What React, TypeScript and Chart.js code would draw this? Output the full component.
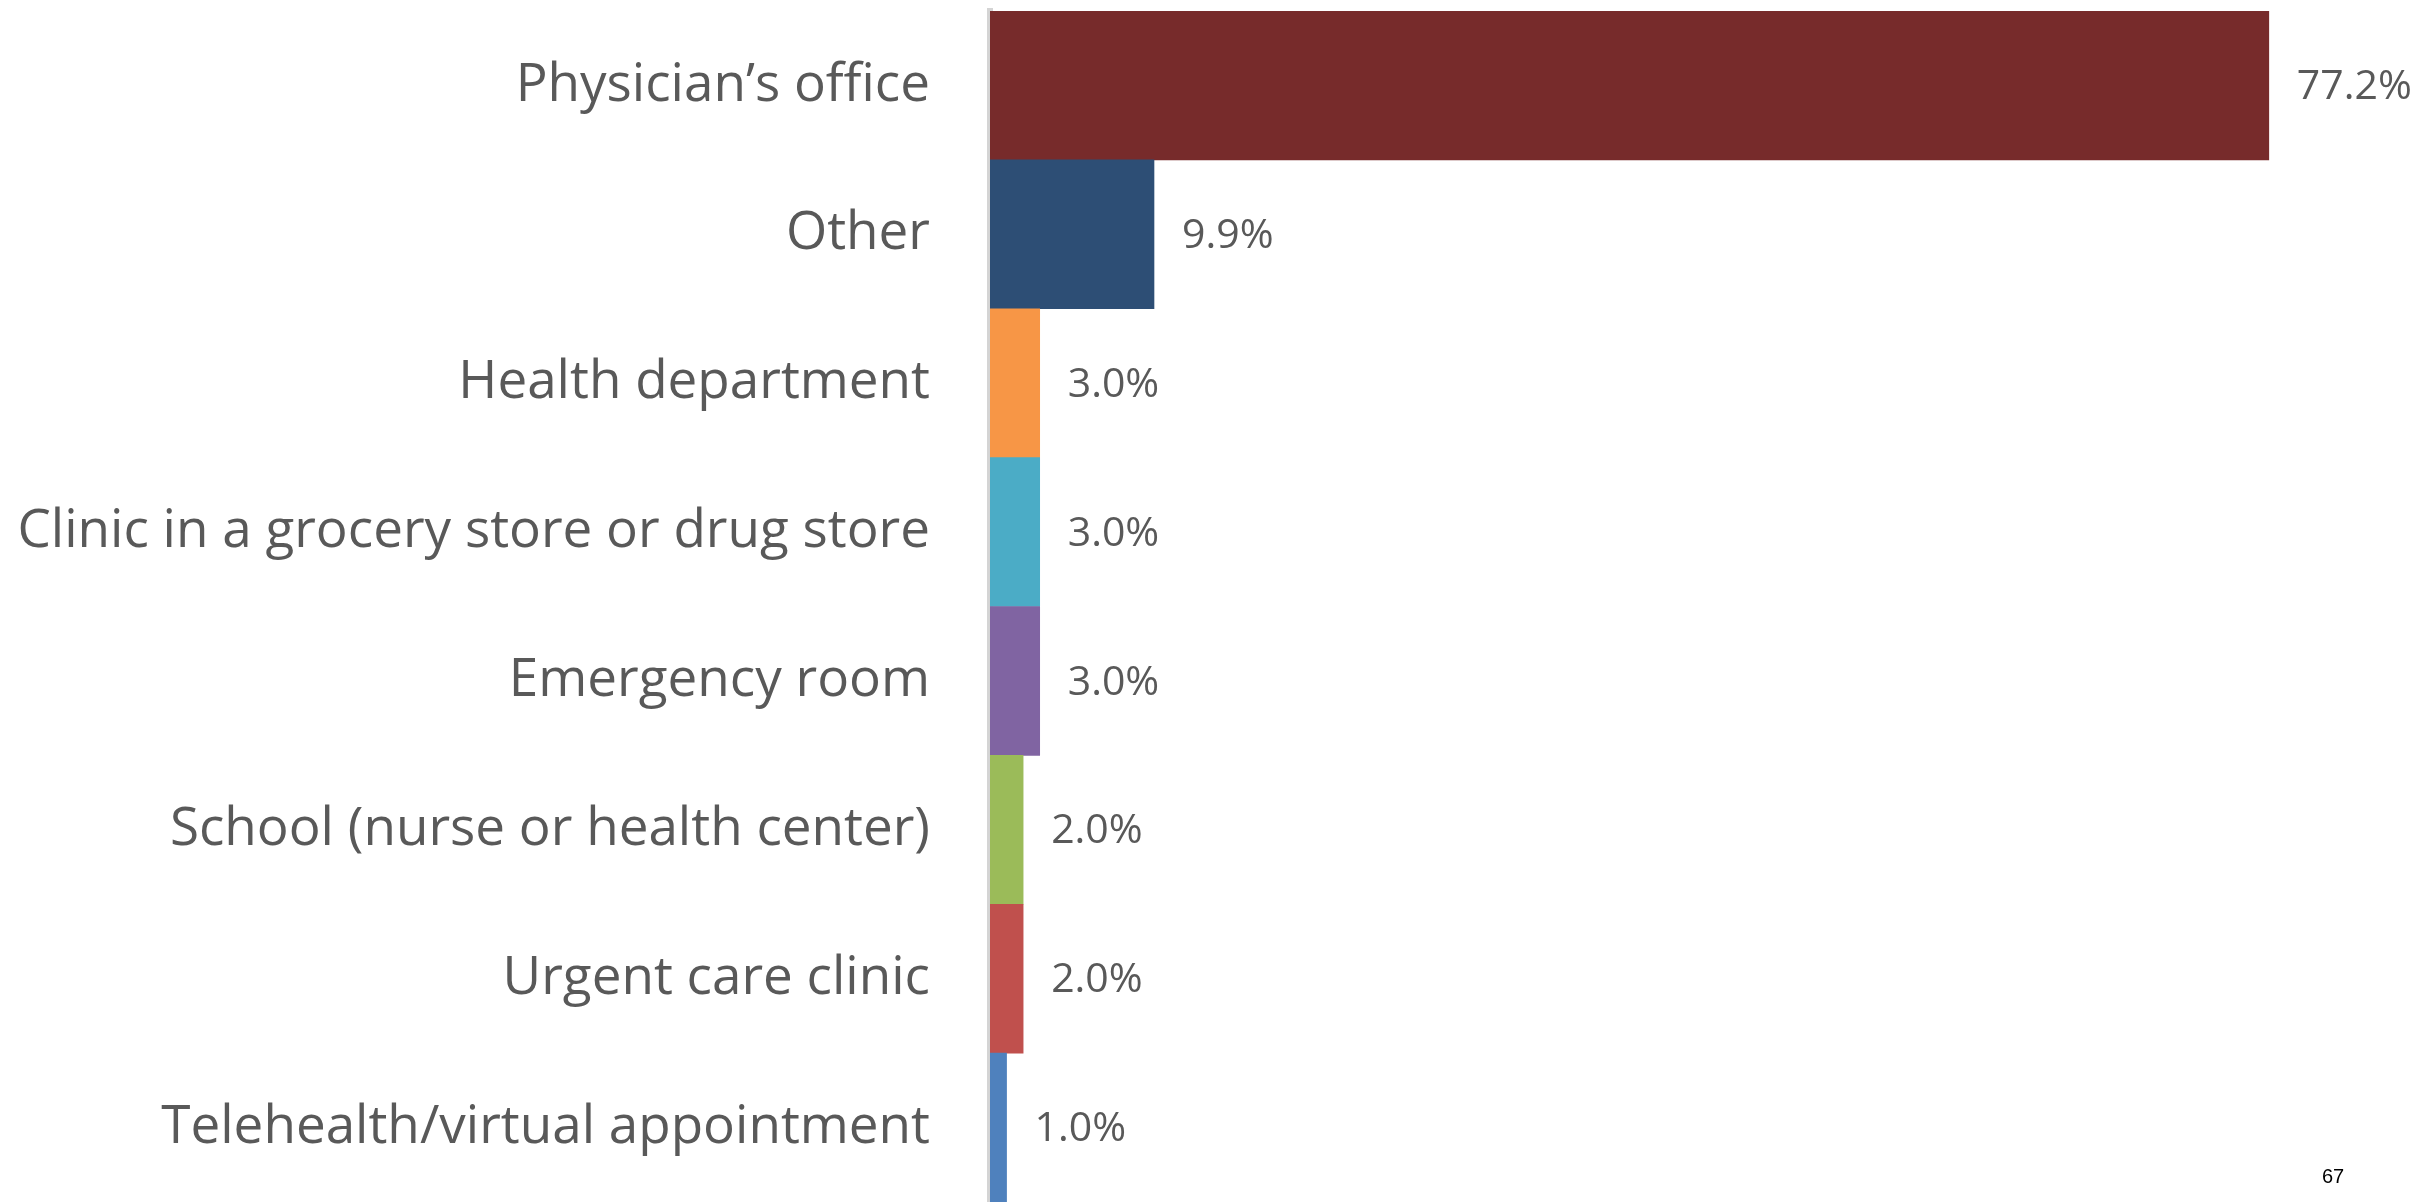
import React, { useEffect, useRef } from "react";
import { Chart, registerables } from "chart.js";

Chart.register(...registerables);

// Where care was received, share of respondents
const categories: string[] = [
  "Physician’s office",
  "Other",
  "Health department",
  "Clinic in a grocery store or drug store",
  "Emergency room",
  "School (nurse or health center)",
  "Urgent care clinic",
  "Telehealth/virtual appointment",
];

const shares: number[] = [77.2, 9.9, 3.0, 3.0, 3.0, 2.0, 2.0, 1.0];

const barColors: string[] = [
  "#772B2B",
  "#2D4E75",
  "#F79646",
  "#4BACC6",
  "#8064A2",
  "#9BBB59",
  "#C0504D",
  "#4F81BD",
];

const pageNumber = "67";

const TEXT_GRAY = "#595959";
const FONT = "'Open Sans', 'DejaVu Sans', sans-serif";

// Writes each bar's percentage just past its end
const valueLabels = {
  id: "valueLabels",
  afterDatasetsDraw(chart: Chart) {
    const { ctx } = chart;
    const meta = chart.getDatasetMeta(0);
    ctx.save();
    ctx.font = `41px ${FONT}`;
    ctx.fillStyle = TEXT_GRAY;
    ctx.textAlign = "left";
    ctx.textBaseline = "middle";
    meta.data.forEach((bar: any, i: number) => {
      const v = shares[i];
      ctx.fillText(`${v.toFixed(1)}%`, bar.x + 28, bar.y + 2);
    });
    ctx.restore();
  },
};

export default function App() {
  const canvasRef = useRef<HTMLCanvasElement | null>(null);

  useEffect(() => {
    document.body.style.margin = "0";
    const canvas = canvasRef.current;
    if (!canvas) return;
    const chart = new Chart(canvas, {
      type: "bar",
      data: {
        labels: categories,
        datasets: [
          {
            data: shares,
            backgroundColor: barColors,
            borderWidth: 0,
            barPercentage: 1,
            categoryPercentage: 1,
          },
        ],
      },
      options: {
        indexAxis: "y",
        responsive: false,
        animation: false,
        devicePixelRatio: 1,
        layout: { padding: { top: 11, right: 22, bottom: 0, left: 0 } },
        plugins: {
          legend: { display: false },
          tooltip: { enabled: false },
        },
        scales: {
          x: {
            display: false,
            min: 0,
            max: 85,
          },
          y: {
            afterFit: (scale: any) => {
              scale.width = 990;
              scale.paddingTop = 0;
              scale.paddingBottom = 0;
            },
            grid: { display: false, drawTicks: false },
            border: { display: true, color: "#D4D4D4", width: 6 },
            ticks: {
              autoSkip: false,
              padding: 60,
              color: TEXT_GRAY,
              font: { family: FONT, size: 53 },
            },
          },
        },
      },
      plugins: [valueLabels],
    });
    return () => chart.destroy();
  }, []);

  return (
    <div style={{ position: "fixed", left: 0, top: 0, width: 2420, height: 1202, background: "#fff" }}>
      <canvas ref={canvasRef} width={2420} height={1202} style={{ display: "block" }} />
      <div
        style={{
          position: "absolute",
          left: 2322,
          top: 1164,
          fontFamily: "'Liberation Sans', Arial, sans-serif",
          fontSize: 20,
          color: "#000",
          lineHeight: "24px",
        }}
      >
        {pageNumber}
      </div>
    </div>
  );
}
